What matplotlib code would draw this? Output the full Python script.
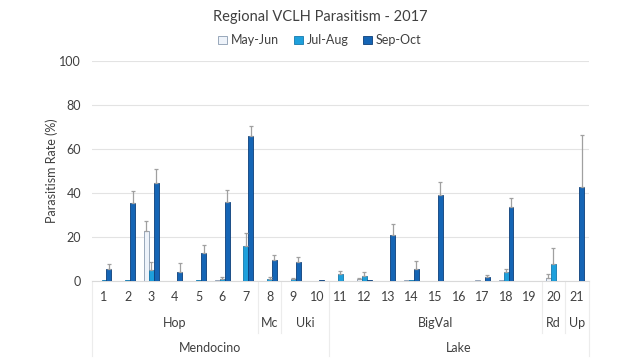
import numpy as np
import matplotlib.pyplot as plt
from matplotlib.transforms import blended_transform_factory

plt.rcParams['font.family'] = ['Lato', 'DejaVu Sans']

sites = [str(i) for i in range(1, 22)]
may_jun = [0, 0, 22.8, 0, 0, 0.6, 0, 0.2, 0, 0, 0, 0.9, 0, 0.5, 0, 0, 0.5, 0.3, 0, 1.5, 0]
jul_aug = [0.5, 0.6, 4.9, 0, 0.4, 1.1, 16.0, 1.2, 0.9, 0, 3.3, 2.3, 0, 0.4, 0, 0, 0.2, 4.0, 0, 7.9, 0]
sep_oct = [5.4, 35.5, 44.7, 4.1, 12.8, 35.9, 65.8, 9.6, 8.7, 0.6, 0, 0.5, 20.9, 5.5, 39.0, 0, 2.0, 33.6, 0, 0, 42.9]

may_err = [0, 0, 4.3, 0, 0, 0, 0, 0, 0, 0, 0, 0.6, 0, 0, 0, 0, 0, 0, 0, 1.8, 0]
jul_err = [0, 0, 3.9, 0, 0, 0.9, 5.9, 0.8, 0.5, 0, 1.3, 2.0, 0, 0, 0, 0, 0, 1.5, 0, 7.3, 0]
sep_err = [2.6, 5.3, 6.3, 4.0, 3.5, 5.5, 4.7, 2.3, 2.3, 0, 0, 0, 5.1, 3.5, 5.9, 0, 1.0, 4.0, 0, 0, 23.3]

# (label, first index, last index)
subgroups = [("Hop", 0, 6), ("Mc", 7, 7), ("Uki", 8, 9), ("BigVal", 10, 18), ("Rd", 19, 19), ("Up", 20, 20)]
counties = [("Mendocino", 0, 9), ("Lake", 10, 20)]

fig = plt.figure(figsize=(6.4, 3.6), dpi=100)
ax = fig.add_axes([0.144, 0.219, 0.776, 0.612])

x = np.arange(len(sites))
w = 0.21
series = [
    ("May-Jun", may_jun, may_err, "#eef3fa", "#8a9bb0"),
    ("Jul-Aug", jul_aug, jul_err, "#1ea0dc", "#1579ad"),
    ("Sep-Oct", sep_oct, sep_err, "#1565b5", "#0c3f7a"),
]
for k, (name, vals, errs, fc, ec) in enumerate(series):
    pos = x + (k - 1) * w
    ax.bar(pos, vals, width=w, color=fc, edgecolor=ec, linewidth=0.6, label=name, zorder=3)
    errs = np.array(errs)
    m = errs > 0
    ax.errorbar(pos[m], np.array(vals)[m], yerr=[np.zeros(m.sum()), errs[m]],
                fmt="none", ecolor="#a0a0a0", elinewidth=0.9, capsize=1.5, capthick=0.9, zorder=4)

ax.set_xlim(-0.5, len(sites) - 0.5)
ax.set_ylim(0, 100)
ax.set_yticks([0, 20, 40, 60, 80, 100])
ax.yaxis.grid(True, color="#e3e3e3", linewidth=0.8, zorder=0)
ax.tick_params(axis="y", length=0, labelsize=9, colors="#404040", pad=8)
ax.set_xticks([])
for s in ["left", "right", "top"]:
    ax.spines[s].set_visible(False)
ax.spines["bottom"].set_color("#d9d9d9")
ax.set_ylabel("Parasitism Rate (%)", fontsize=9, color="#404040", labelpad=1)

tr = blended_transform_factory(ax.transData, ax.transAxes)
for i, s in enumerate(sites):
    ax.text(i, -0.073, s, transform=tr, ha="center", va="center", fontsize=9, color="#404040")
for name, a, b in subgroups:
    ax.text((a + b) / 2, -0.19, name, transform=tr, ha="center", va="center", fontsize=9, color="#404040")
for name, a, b in counties:
    ax.text((a + b) / 2, -0.305, name, transform=tr, ha="center", va="center", fontsize=9, color="#404040")

line_c = "#ececec"
for name, a, b in subgroups:
    if a == 0 or a == 10:
        continue
    ax.plot([a - 0.5, a - 0.5], [0, -0.236], transform=tr, color=line_c, lw=0.8, clip_on=False)
for xb in [-0.5, 9.5, 20.5]:
    ax.plot([xb, xb], [0, -0.34], transform=tr, color=line_c, lw=0.8, clip_on=False)

fig.text(0.5, 0.952, "Regional VCLH Parasitism - 2017", ha="center", va="center", fontsize=10.5, color="#404040")
fig.legend(loc="center", bbox_to_anchor=(0.5, 0.888), ncol=3, frameon=False, fontsize=9,
           handlelength=0.7, handleheight=0.7, handletextpad=0.3, columnspacing=1.2, labelcolor="#404040")

fig.savefig("out.png", dpi=100, facecolor="white")
